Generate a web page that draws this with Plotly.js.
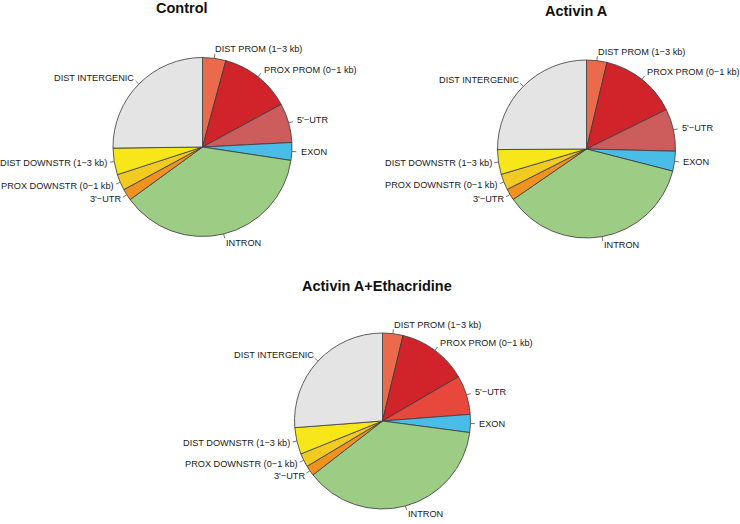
<!DOCTYPE html>
<html>
<head>
<meta charset="utf-8">
<script src="https://cdn.plot.ly/plotly-3.0.1.min.js"></script>
<style>html,body{margin:0;padding:0;background:#fff;}#chart{width:740px;height:524px;}</style>
</head>
<body>
<div id="chart"></div>
<script>
// ---- data ----
var categories = ["DIST PROM (1\u22123 kb)", "PROX PROM (0\u22121 kb)", "5'\u2212UTR", "EXON", "INTRON",
                  "3'\u2212UTR", "PROX DOWNSTR (0\u22121 kb)", "DIST DOWNSTR (1\u22123 kb)", "DIST INTERGENIC"];
var controlValues     = [4.2, 12.9, 7.1, 3.2, 37.6, 2.1, 2.9, 4.8, 25.2];
var activinValues     = [3.7, 14.0, 7.7, 3.6, 36.4, 2.1, 2.9, 4.5, 25.1];
var ethacridineValues = [3.75, 12.85, 7.2, 3.3, 37.4, 1.9, 2.5, 4.9, 26.2];
var panelTitles = ["Control", "Activin A", "Activin A+Ethacridine"];

// ---- styles / layout ----
var W = 740, H = 524;
var baseColors = ["#EB6A4B", "#D0232A", "#CD5C5C", "#49BCE8", "#9DCD84", "#F0921F", "#F2CB22", "#F6E61A", "#E4E4E4"];
var ethColors  = ["#EB6A4B", "#D0232A", "#E8483C", "#49BCE8", "#9DCD84", "#F0921F", "#F2CB22", "#F6E61A", "#E4E4E4"];
var panels = [
  {values: controlValues, colors: baseColors, cx: 202.5, cy: 147, r: 89.5, tx: 182, ty: 8},
  {values: activinValues, colors: baseColors, cx: 586.5, cy: 149, r: 89, tx: 576, ty: 11},
  {values: ethacridineValues, colors: ethColors, cx: 382.5, cy: 421, r: 88, tx: 377, ty: 286}
];

function px(x) { return x / W; }
function py(y) { return 1 - y / H; }

var traces = [], annotations = [], shapes = [];
var labelFont = {family: "Liberation Sans, Arial, sans-serif", size: 9.2, color: "#1a1a1a"};

panels.forEach(function (p, k) {
  traces.push({
    type: "pie",
    labels: categories,
    values: p.values,
    sort: false,
    direction: "clockwise",
    rotation: 0,
    textinfo: "none",
    hoverinfo: "label+percent",
    marker: {colors: p.colors, line: {color: "#3a3a3a", width: 0.8}},
    domain: {x: [px(p.cx - p.r), px(p.cx + p.r)], y: [py(p.cy + p.r), py(p.cy - p.r)]},
    showlegend: false
  });
  var total = p.values.reduce(function (a, b) { return a + b; }, 0);
  var cum = 0;
  p.values.forEach(function (v, i) {
    var mid = 2 * Math.PI * (cum + v / 2) / total;
    cum += v;
    var s = Math.sin(mid), c = -Math.cos(mid);
    shapes.push({
      type: "line", xref: "paper", yref: "paper",
      x0: px(p.cx + p.r * s), y0: py(p.cy + p.r * c),
      x1: px(p.cx + 1.05 * p.r * s), y1: py(p.cy + 1.05 * p.r * c),
      line: {color: "#555", width: 0.8}
    });
    annotations.push({
      xref: "paper", yref: "paper",
      x: px(p.cx + 1.1 * p.r * s), y: py(p.cy + 1.1 * p.r * c),
      xanchor: s < 0 ? "right" : "left", yanchor: "middle",
      xshift: s < 0 ? 2 : 0,
      text: categories[i], showarrow: false, font: labelFont,
      borderpad: 0, borderwidth: 0
    });
  });
  annotations.push({
    xref: "paper", yref: "paper", x: px(p.tx), y: py(p.ty),
    xanchor: "center", yanchor: "middle", showarrow: false,
    text: "<b>" + panelTitles[k] + "</b>",
    font: {family: "Liberation Sans, Arial, sans-serif", size: 14.5, color: "#111"}
  });
});

var layout = {
  width: W, height: H,
  margin: {l: 0, r: 0, t: 0, b: 0},
  paper_bgcolor: "#fff", plot_bgcolor: "#fff",
  showlegend: false,
  annotations: annotations,
  shapes: shapes
};
Plotly.newPlot("chart", traces, layout, {displayModeBar: false, staticPlot: true});
</script>
</body>
</html>
